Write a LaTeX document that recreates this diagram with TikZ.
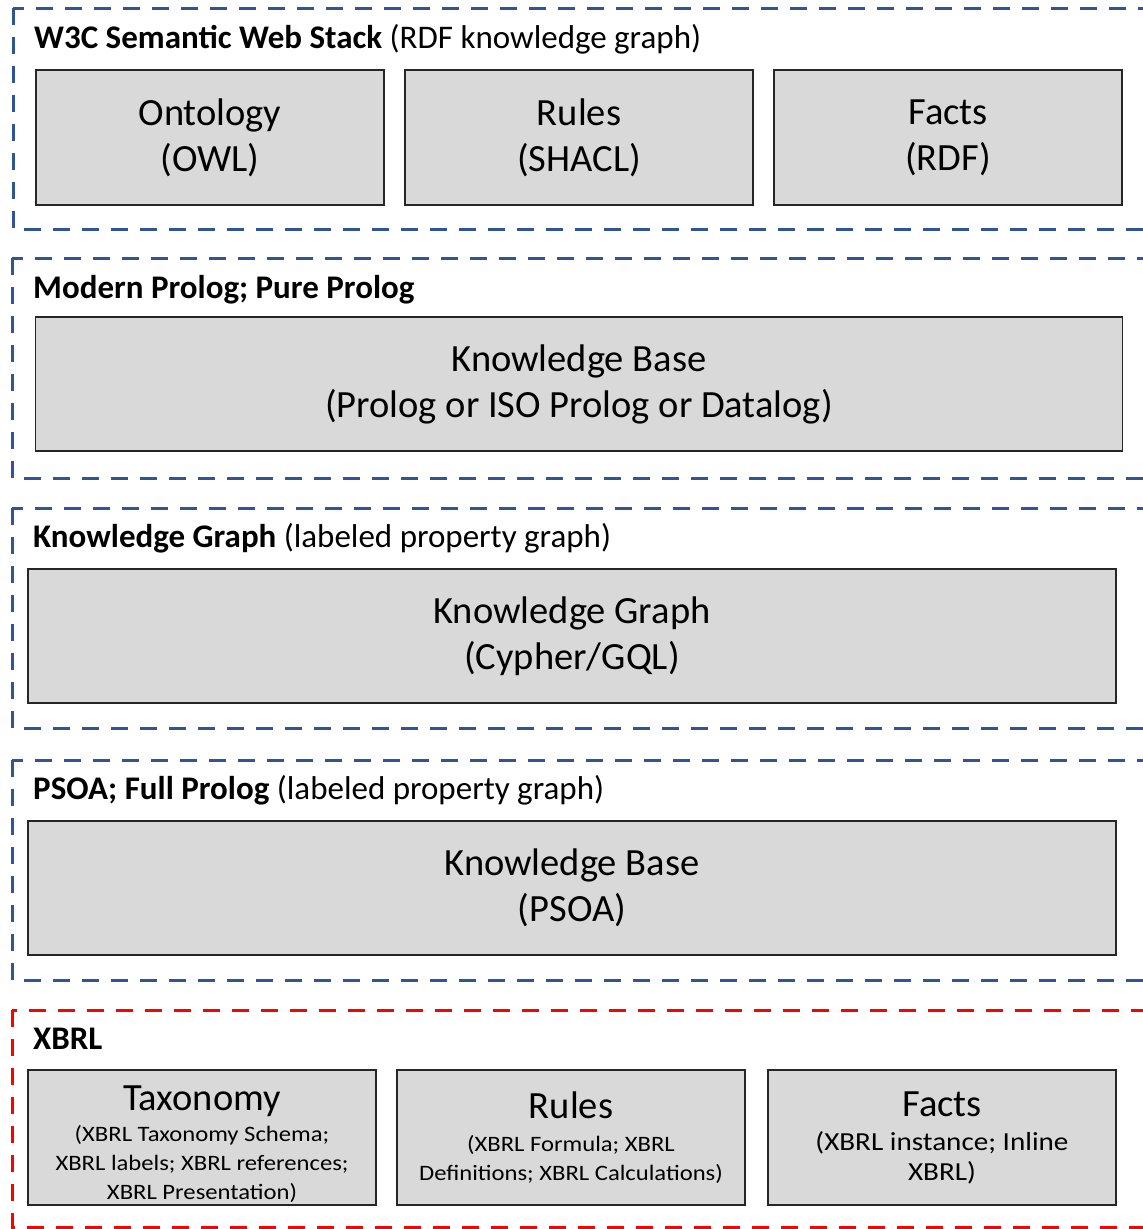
\documentclass[tikz,border=0pt]{standalone}
\usepackage{fontspec}
\setmainfont{Carlito}
\newfontfamily\notefont[FakeStretch=1.12]{Carlito}
\definecolor{grpblue}{HTML}{2F5597}
\definecolor{grpred}{HTML}{FF0000}
\definecolor{boxgray}{HTML}{D9D9D9}
\tikzset{
  grp/.style={draw=grpblue, line width=3pt, dash pattern=on 17pt off 12pt},
  grpx/.style={grp, draw=grpred},
  card/.style={rectangle, draw=black!85, line width=1.5pt, fill=boxgray,
    minimum width=348pt, minimum height=135pt, inner sep=0pt,
    text width=340pt, align=flush center, font=\fontsize{38.5}{46}\selectfont},
  widecard/.style={card, minimum width=1087pt, minimum height=134pt, text width=1000pt},
  head/.style={anchor=base west, inner sep=0pt, font=\fontsize{33}{40}\selectfont},
}
% title line of an XBRL card, followed by its smaller note lines
\newcommand{\bigline}[2]{{\fontsize{38.5}{44}\selectfont #1\par}\vskip #2}
\begin{document}
\begin{tikzpicture}[x=1pt, y=-1pt]
  \useasboundingbox (0,0) rectangle (1143,1229);
  \clip (0,0) rectangle (1143,1229);

  % group frames, open past the right edge
  \draw[grp]  (13,8)    rectangle (1175,229);
  \draw[grp]  (12,258)  rectangle (1175,478);
  \draw[grp]  (12,508)  rectangle (1175,728);
  \draw[grp]  (12,760)  rectangle (1175,980);
  \draw[grpx] (12,1010) rectangle (1175,1227);

  % W3C stack
  \node[head] (h1) at (34,48) {\textbf{W3C Semantic Web Stack} (RDF knowledge graph)};
  \node[card] (owl)   at (210,137.5) {Ontology\\(OWL)};
  \node[card] (shacl) at (579,137.5) {Rules\\(SHACL)};
  \node[card] (rdf)   at (948,137.5) {Facts\\(RDF)};

  % Prolog
  \node[head] (h2) at (33,298) {\textbf{Modern Prolog; Pure Prolog}};
  \node[widecard] (kb1) at (579,384) {Knowledge Base\\(Prolog or ISO Prolog or Datalog)};

  % Property graph
  \node[head] (h3) at (33,547) {\textbf{Knowledge Graph} (labeled property graph)};
  \node[widecard, minimum width=1088pt] (kg) at (572,636) {Knowledge Graph\\(Cypher/GQL)};

  % PSOA
  \node[head] (h4) at (33,799) {\textbf{PSOA; Full Prolog} (labeled property graph)};
  \node[widecard, minimum width=1088pt] (kb2) at (572,888) {Knowledge Base\\(PSOA)};

  % XBRL
  \node[head] (h5) at (33,1049) {\textbf{XBRL}};
  \node[card] (tax) at (202,1137.5) {\bigline{\rule{0pt}{38pt}Taxonomy}{2pt}%
    {\notefont\fontsize{22}{29}\selectfont (XBRL Taxonomy Schema;\\XBRL labels; XBRL references;\\XBRL Presentation)\par}};
  \node[card] (xrules) at (571,1137.5) {\bigline{Rules}{4pt}%
    {\notefont\fontsize{22}{29}\selectfont (XBRL Formula; XBRL\\Definitions; XBRL Calculations)\par}};
  \node[card] (xfacts) at (942,1137.5) {\bigline{Facts}{4pt}%
    {\notefont\fontsize{26}{30}\selectfont (XBRL instance; Inline\\XBRL)\par}};
\end{tikzpicture}
\end{document}
